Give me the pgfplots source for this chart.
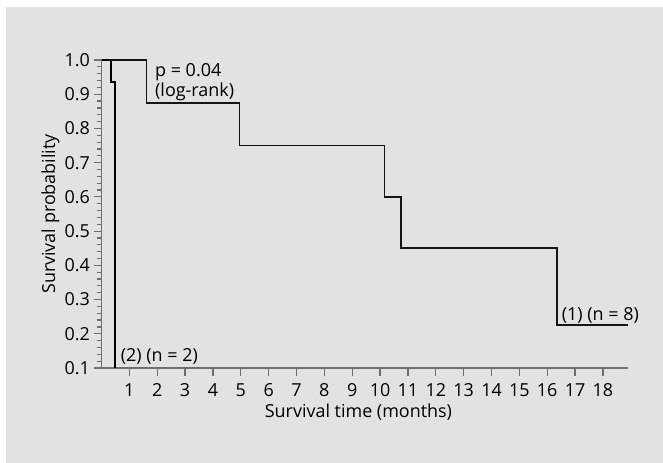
\documentclass[border=0pt]{standalone}
\usepackage{pgfplots}
\pgfplotsset{compat=1.18}
\usepackage{fontspec}
\setmainfont{Open Sans}
\definecolor{bg}{HTML}{E2E2E2}
\definecolor{axgray}{HTML}{6E6E6E}
\definecolor{curve}{HTML}{151515}
\begin{document}
\begin{tikzpicture}[x=1bp,y=1bp]
\fill[white] (0,0) rectangle (663,463);
\fill[bg] (6,0) rectangle (663,456);
\useasboundingbox (0,0) rectangle (663,463);
\begin{axis}[
  at={(101.5bp,95bp)}, anchor=south west, scale only axis,
  width=526.5bp, height=308bp,
  xmin=0, xmax=18.9, ymin=0.1, ymax=1.0,
  axis lines*=left,
  axis line style={axgray, line width=1.6bp},
  xtick={1,2,3,4,5,6,7,8,9,10,11,12,13,14,15,16,17,18},
  ytick={0.1,0.2,0.3,0.4,0.5,0.6,0.7,0.8,0.9,1.0},
  minor y tick num=4,
  tick align=outside,
  major tick length=8bp, minor tick length=5bp,
  every tick/.style={axgray, line width=1.2bp},
  /pgf/number format/assume math mode=true,
  tick label style={font=\fontsize{18}{21}\selectfont, text=black},
  yticklabel style={/pgf/number format/.cd, fixed, fixed zerofill, precision=1},
  xticklabel style={yshift=-4bp},
  every axis y label/.style={at={(axis description cs:-0.0883,0.5)}, rotate=90, anchor=base},
  every axis x label/.style={at={(axis description cs:0.488,-0.1607)}, anchor=base},
  label style={font=\fontsize{18}{21}\selectfont},
  xlabel={Survival time (months)},
  ylabel={Survival probability},
  clip=false,
]
% Group 1 (n = 8)
\addplot[const plot, curve, line width=1.5bp] coordinates {
  (0,1.0) (1.62,0.875) (4.95,0.75) (10.15,0.6) (10.75,0.45) (16.35,0.225) (18.9,0.225)
};
% Group 2 (n = 2)
\addplot[const plot, black, line width=2.4bp] coordinates {
  (0,1.0) (0.34,0.935) (0.49,0.1) (0.49,0.1)
};
\node[anchor=base west, inner sep=0, font=\fontsize{18}{21}\selectfont] at (axis cs:1.92,0.953) {p = 0.04};
\node[anchor=base west, inner sep=0, font=\fontsize{18}{21}\selectfont] at (axis cs:1.92,0.893) {(log-rank)};
\node[anchor=base west, inner sep=0, font=\fontsize{18}{21}\selectfont] at (axis cs:0.69,0.12) {(2) (n = 2)};
\node[anchor=base west, inner sep=0, font=\fontsize{18}{21}\selectfont] at (axis cs:16.52,0.24) {(1) (n = 8)};
\end{axis}
\end{tikzpicture}
\end{document}
